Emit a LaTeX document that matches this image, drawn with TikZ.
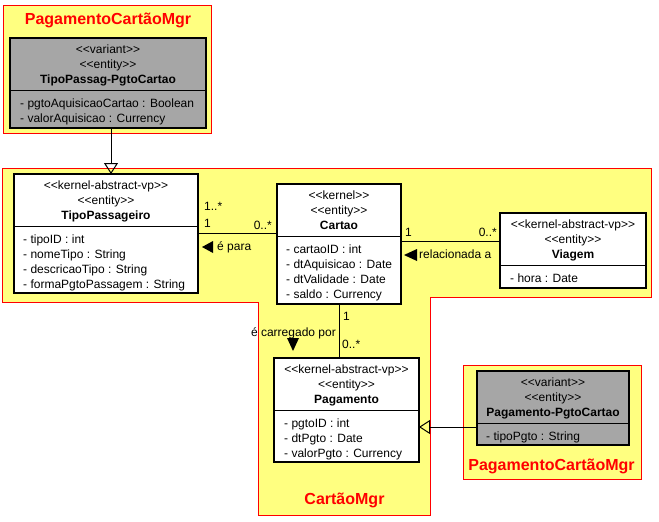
\documentclass[tikz,border=0pt]{standalone}
\usepackage{fontspec}
\setmainfont{Liberation Sans}[Ligatures=TeXOff]
\usetikzlibrary{arrows.meta}
\definecolor{pkgfill}{RGB}{255,255,128}
\definecolor{pkgred}{RGB}{255,0,0}
\definecolor{vargrey}{RGB}{166,166,166}

\begin{document}
\begin{tikzpicture}[x=1pt,y=-1pt]
\tikzstyle{pkg}=[draw=pkgred,fill=pkgfill,line width=1pt]
\tikzstyle{pkgname}=[text=pkgred,font=\fontsize{16}{18}\selectfont\bfseries,inner sep=0,anchor=base]
\tikzstyle{cls}=[draw,fill=white,line width=1.8pt,outer sep=0,inner sep=0]
\tikzstyle{variant}=[cls,fill=vargrey]
\tikzstyle{clshead}=[font=\fontsize{12}{15}\selectfont,align=center,inner sep=0,anchor=north]
\tikzstyle{clsattrs}=[font=\fontsize{12}{15}\selectfont,align=left,inner sep=0,anchor=north west]
\tikzstyle{divider}=[line width=1pt]
\tikzstyle{lbl}=[font=\fontsize{12}{14}\selectfont,inner sep=0]
\tikzstyle{assoc}=[line width=1pt]
\tikzstyle{gen}=[line width=1pt,-{Triangle[open,length=11pt,width=14pt]}]
\tikzstyle{dirhead}=[fill=black]

\useasboundingbox (0,0) rectangle (659,522);

% packages
\draw[pkg] (3.5,5) rectangle (211.5,133);
\node[pkgname] (pkgtop) at (108,24.5) {PagamentoCartãoMgr};
\draw[pkg] (2.7,168.3) -- (651.7,168.3) -- (651.7,297.7) -- (430.7,297.7)
  -- (430.7,515) -- (258.3,515) -- (258.3,302.7) -- (2.7,302.7) -- cycle;
\node[pkgname] (pkgmain) at (344.5,504.5) {CartãoMgr};
\draw[pkg] (463.3,365.7) rectangle (641.7,479.3);
\node[pkgname] (pkgpay) at (551.5,470.5) {PagamentoCartãoMgr};

% classes
\node[variant,minimum width=196,minimum height=90] (tpcard) at (108,83) {};
\node[clshead] (tpcard-h) at ([yshift=-7pt]tpcard.north) {<<variant>>\\<<entity>>\\\textbf{TipoPassag-PgtoCartao}};
\draw[divider] ([yshift=-52pt]tpcard.north west) -- ([yshift=-52pt]tpcard.north east);
\node[clsattrs] (tpcard-a) at ([xshift=10pt,yshift=-61pt]tpcard.north west) {- pgtoAquisicaoCartao : Boolean\\- valorAquisicao : Currency};

\node[cls,minimum width=184,minimum height=119] (tipo) at (106,233.5) {};
\node[clshead] (tipo-h) at ([yshift=-7pt]tipo.north) {<<kernel-abstract-vp>>\\<<entity>>\\\textbf{TipoPassageiro}};
\draw[divider] ([yshift=-52pt]tipo.north west) -- ([yshift=-52pt]tipo.north east);
\node[clsattrs] (tipo-a) at ([xshift=9pt,yshift=-61pt]tipo.north west) {- tipoID : int\\- nomeTipo : String\\- descricaoTipo : String\\- formaPgtoPassagem : String};

\node[cls,minimum width=124,minimum height=120] (cartao) at (339,244) {};
\node[clshead] (cartao-h) at ([yshift=-7pt]cartao.north) {<<kernel>>\\<<entity>>\\\textbf{Cartao}};
\draw[divider] ([yshift=-52pt]cartao.north west) -- ([yshift=-52pt]cartao.north east);
\node[clsattrs] (cartao-a) at ([xshift=9pt,yshift=-61pt]cartao.north west) {- cartaoID : int\\- dtAquisicao : Date\\- dtValidade : Date\\- saldo : Currency};

\node[cls,minimum width=146,minimum height=75] (viagem) at (573,250.5) {};
\node[clshead] (viagem-h) at ([yshift=-7pt]viagem.north) {<<kernel-abstract-vp>>\\<<entity>>\\\textbf{Viagem}};
\draw[divider] ([yshift=-52pt]viagem.north west) -- ([yshift=-52pt]viagem.north east);
\node[clsattrs] (viagem-a) at ([xshift=10pt,yshift=-61pt]viagem.north west) {- hora : Date};

\node[cls,minimum width=145,minimum height=104] (pag) at (346.5,410) {};
\node[clshead] (pag-h) at ([yshift=-7pt]pag.north) {<<kernel-abstract-vp>>\\<<entity>>\\\textbf{Pagamento}};
\draw[divider] ([yshift=-52pt]pag.north west) -- ([yshift=-52pt]pag.north east);
\node[clsattrs] (pag-a) at ([xshift=10pt,yshift=-61pt]pag.north west) {- pgtoID : int\\- dtPgto : Date\\- valorPgto : Currency};

\node[variant,minimum width=152,minimum height=74] (pgcard) at (553,408) {};
\node[clshead] (pgcard-h) at ([yshift=-7pt]pgcard.north) {<<variant>>\\<<entity>>\\\textbf{Pagamento-PgtoCartao}};
\draw[divider] ([yshift=-52pt]pgcard.north west) -- ([yshift=-52pt]pgcard.north east);
\node[clsattrs] (pgcard-a) at ([xshift=9pt,yshift=-61pt]pgcard.north west) {- tipoPgto : String};

% generalizations
\draw[gen] ([xshift=3pt]tpcard.south) -- ([xshift=3pt]tpcard.south |- tipo.north);
\draw[gen] ([yshift=-19pt]pgcard.west) -- ([yshift=-19pt]pgcard.west -| pag.east);

% associations
\draw[assoc] (tipo.east) -- (tipo.east -| cartao.west);
\node[lbl,anchor=west] (m1) at (204,206) {1..*};
\node[lbl,anchor=west] (m2) at (204,223) {1};
\node[lbl,anchor=east] (m3) at (272,225) {0..*};
\node[lbl,anchor=west] (epara) at (217,247) {é para};
\fill[dirhead] ([xshift=-4pt]epara.west) -- ++(0,-6) -- ++(-11,6) -- ++(11,6) -- cycle;

\draw[assoc] ([yshift=3pt]cartao.east) -- ([yshift=3pt]cartao.east -| viagem.west);
\node[lbl,anchor=west] (m4) at (405,232) {1};
\node[lbl,anchor=east] (m5) at (497,232) {0..*};
\node[lbl,anchor=west] (relac) at (419,254) {relacionada a};
\fill[dirhead] ([xshift=-2pt,yshift=-1pt]relac.west) -- ++(0,-6) -- ++(-13,6) -- ++(13,6) -- cycle;

\draw[assoc] (cartao.south) -- (cartao.south |- pag.north);
\node[lbl,anchor=west] (m6) at (343,316) {1};
\node[lbl,anchor=west] (m7) at (342,344) {0..*};
\node[lbl,anchor=east] (carreg) at (336,333) {é carregado por};
\fill[dirhead] (287,338) -- (299,338) -- (293,351) -- cycle;
\end{tikzpicture}
\end{document}
